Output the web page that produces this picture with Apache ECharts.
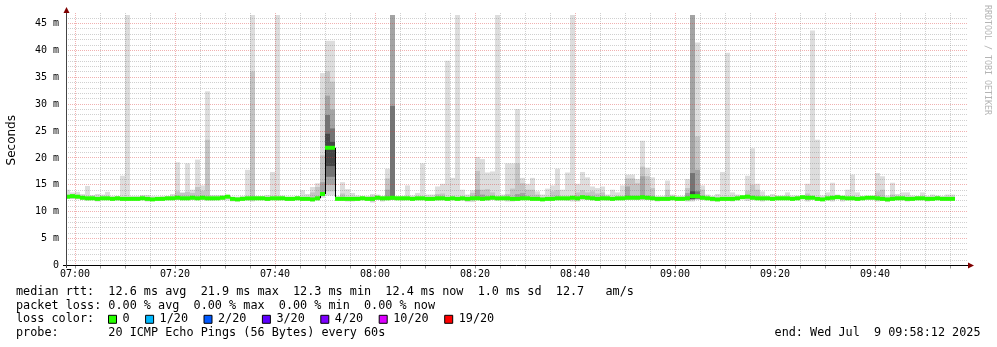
<!DOCTYPE html>
<html><head><meta charset="utf-8">
<script src="https://cdn.jsdelivr.net/npm/echarts@6/dist/echarts.min.js"></script>
<style>html,body{margin:0;padding:0;background:#fff}#c{width:997px;height:347px}</style>
</head><body><div id="c"></div>
<script>
// ---- data (one bar per minute, first bar = 06:58, minutes relative to 07:00) ----
const barMinutes = Array.from({length: 180}, (_, i) => i - 2);
const tickMinutes = [0, 20, 40, 60, 80, 100, 120, 140, 160];
const tickLabels = ['07:00','07:20','07:40','08:00','08:20','08:40','09:00','09:20','09:40'];
const gridMinutes = Array.from({length: 36}, (_, i) => i * 5);
const gridMs = Array.from({length: 46}, (_, i) => i + 1);

const pingMax = [
 14.1,13.6,13.7,13.3,14.8,13.1,13.3,13.2,13.7,12.9,
 12.9,16.7,46.6,12.9,12.9,13.1,13.1,12.9,12.8,12.9,
 12.9,13.3,19.2,13.6,19.0,14.1,19.7,14.9,32.4,13.1,
 13.1,13.1,13.0,12.7,12.8,12.9,17.8,46.6,12.9,12.9,
 13.1,17.4,46.6,13.0,12.8,12.8,12.9,14.0,13.3,14.6,
 15.3,35.8,41.8,41.8,12.9,15.5,14.2,13.5,13.0,12.9,
 12.9,13.3,13.2,12.9,18.0,46.6,12.9,12.9,14.9,13.0,
 13.5,19.0,13.2,13.2,14.7,15.2,38.1,16.3,46.6,14.1,
 13.2,14.0,20.2,19.8,17.3,17.5,46.6,13.2,19.0,19.0,
 29.1,16.3,15.2,16.3,13.8,13.2,14.3,14.9,18.0,14.1,
 17.3,46.6,15.2,17.4,16.4,14.7,14.4,14.7,13.2,14.1,
 13.6,14.9,16.9,16.9,16.1,23.2,18.2,16.4,12.9,12.9,
 15.8,13.2,12.9,12.9,16.1,46.6,41.5,14.9,13.2,12.9,
 13.3,17.4,39.6,13.6,13.2,12.9,16.7,21.8,15.2,13.8,
 13.0,13.3,13.0,13.0,13.6,13.0,13.0,13.0,15.2,43.7,
 23.4,13.0,13.6,15.4,13.2,12.9,14.1,16.9,13.6,12.9,
 12.6,12.6,17.2,16.6,13.0,15.4,13.3,13.6,13.6,13.0,
 12.9,13.6,12.9,13.2,13.0,12.9,13.2,13.2,null,null];

const pingMin = [
 12.4,12.5,12.3,12.2,12.1,12.2,11.9,12.2,12.2,12.1,
 12.1,12.1,12.1,12.1,12.1,12.2,11.9,12.0,12.1,12.1,
 12.2,12.2,12.2,12.2,12.2,12.2,12.2,12.2,12.1,12.1,
 12.2,12.2,12.1,11.9,11.9,12.1,12.1,11.9,12.2,12.2,
 12.0,12.2,12.1,12.2,12.0,12.0,12.2,12.0,12.1,11.9,
 12.1,12.6,13.0,13.0,12.1,12.1,11.9,11.9,12.1,12.2,
 12.1,11.7,12.2,11.9,12.2,12.2,12.2,12.1,12.2,12.1,
 12.2,12.2,12.1,12.1,12.1,12.2,12.1,12.2,12.1,12.1,
 11.8,11.8,12.2,12.1,12.1,12.2,12.1,12.2,11.9,11.9,
 12.1,12.2,12.2,12.1,12.1,12.0,12.1,12.1,12.2,12.2,
 12.1,11.9,11.9,12.3,12.2,12.2,12.1,12.2,12.1,12.1,
 12.2,12.2,12.3,12.3,12.2,12.3,12.2,12.2,11.9,12.1,
 12.1,12.2,12.1,12.1,11.9,11.9,12.5,12.2,12.2,11.9,
 11.9,12.1,12.1,11.9,12.2,12.4,12.0,12.3,12.2,11.9,
 12.2,12.1,12.2,12.2,12.2,12.1,12.2,12.4,11.9,12.3,
 12.1,12.0,12.2,11.9,12.4,11.9,12.2,12.2,12.1,12.2,
 12.3,12.3,11.9,12.1,11.8,12.1,12.2,12.2,11.9,12.1,
 12.2,12.2,11.9,12.1,12.2,12.1,12.1,12.1,null,null];

const medianRtt = [
 12.8,12.9,12.8,12.6,12.5,12.5,12.4,12.5,12.5,12.4,
 12.5,12.4,12.4,12.4,12.4,12.5,12.4,12.3,12.4,12.4,
 12.5,12.5,12.6,12.5,12.5,12.6,12.5,12.6,12.5,12.5,
 12.5,12.6,12.8,12.4,12.3,12.4,12.5,12.5,12.5,12.5,
 12.4,12.5,12.5,12.5,12.4,12.4,12.5,12.4,12.4,12.3,
 12.5,13.3,21.9,21.9,12.4,12.4,12.4,12.4,12.4,12.5,
 12.4,12.4,12.6,12.5,12.5,12.6,12.5,12.5,12.5,12.4,
 12.5,12.5,12.4,12.4,12.5,12.5,12.4,12.5,12.4,12.5,
 12.4,12.5,12.5,12.4,12.5,12.6,12.5,12.5,12.5,12.4,
 12.4,12.5,12.5,12.4,12.4,12.3,12.4,12.4,12.5,12.5,
 12.5,12.6,12.5,12.7,12.6,12.5,12.4,12.5,12.5,12.4,
 12.5,12.5,12.6,12.6,12.6,12.7,12.6,12.5,12.4,12.4,
 12.4,12.5,12.4,12.4,12.5,12.9,12.9,12.6,12.5,12.4,
 12.3,12.4,12.4,12.4,12.5,12.7,12.8,12.6,12.5,12.5,
 12.5,12.4,12.5,12.5,12.5,12.4,12.5,12.7,12.6,12.6,
 12.4,12.3,12.5,12.6,12.7,12.6,12.5,12.5,12.4,12.5,
 12.6,12.6,12.5,12.4,12.3,12.4,12.5,12.5,12.4,12.4,
 12.5,12.5,12.4,12.4,12.5,12.4,12.4,12.4,null,null];

// darker smoke layers: [minute, low, high]
const smoke2 = [
 [-1,12.4,13.2],[20,12.3,13.8],[21,12.3,13.5],[22,12.3,13.7],[23,12.3,13.5],[24,12.3,14.6],
 [25,12.3,13.9],[26,12.2,23.4],[35,12.2,36.1],[47,12.3,13.6],[48,12.3,14.6],[49,12.9,20.5],
 [50,13.8,36.1],[51,13.8,34.2],[53,12.4,13.4],[59,11.9,12.9],[60,12.2,12.9],[62,12.5,16.2],
 [63,12.3,46.6],[72,12.3,13.3],[73,12.3,13.4],[79,12.3,13.5],[80,12.3,17.6],[81,12.3,14.1],
 [82,12.3,14.2],[83,12.3,13.6],[86,12.3,13.3],[87,12.3,14.3],[88,12.3,19.0],[89,12.3,15.3],
 [90,12.3,14.1],[91,12.3,14.1],[92,12.3,13.2],[95,12.3,13.8],[96,12.3,14.0],[100,12.3,13.6],
 [101,12.3,14.0],[102,12.3,13.6],[103,12.3,13.8],[104,12.3,13.4],[105,12.3,13.6],
 [110,12.3,16.2],[111,12.3,16.2],[112,12.3,15.3],[113,12.3,18.4],[114,12.3,16.6],[115,12.3,14.4],
 [118,12.3,14.1],[122,12.3,14.4],[123,12.3,46.6],[124,12.3,24.0],[125,12.3,14.1],
 [134,12.3,13.9],[135,12.3,15.0],[136,12.3,14.1],[146,12.3,13.4],[160,12.3,13.8],
 [161,12.3,14.1],[163,12.3,13.2]];
const smoke3 = [
 [49,13.0,15.5],[50,15.0,31.6],[51,15.0,29.0],[62,12.6,14.1],[63,12.3,46.6],[80,12.3,14.1],
 [81,12.3,13.2],[88,12.3,13.3],[89,12.3,13.5],[110,12.3,14.7],[113,12.3,16.6],[122,12.4,13.5],
 [123,12.3,46.6],[124,12.3,17.8]];
const smoke4 = [[50,16.5,28.0],[51,16.5,25.5],[63,12.3,29.7],[123,12.3,17.2],[124,12.4,13.8]];
const smoke5 = [[50,18.5,24.5],[51,18.5,23.0],[123,12.4,13.8]];

const rttStats = [12.6, 21.9, 12.3, 12.4]; // avg, max, min, now (ms)
const rttSd = 1.0, amPerSec = 12.7;
const lossStats = [0, 0, 0, 0];
const lossLabels = ['0','1/20','2/20','3/20','4/20','10/20','19/20'];
const lossColors = ['#26ff00','#00b8ff','#0059ff','#5e00ff','#7e00ff','#dd00ff','#ff0000'];
const probeText = '20 ICMP Echo Pings (56 Bytes) every 60s';
const endText = 'end: Wed Jul  9 09:58:12 2025';

// ---- chart ----
const MONO = '"DejaVu Sans Mono", monospace';
const chart = echarts.init(document.getElementById('c'), null, {renderer: 'canvas'});

function clipTo(cs, r) {
  return echarts.graphic.clipRectByRect(r, {x: cs.x, y: cs.y, width: cs.width, height: cs.height});
}
function smokeSeries(items, color, z) {
  return {
    type: 'custom', silent: true, z: z, animation: false,
    data: items, encode: {x: 0, y: [1, 2]},
    renderItem(params, api) {
      const t = api.value(0), lo = api.value(1), hi = api.value(2);
      const a = api.coord([t, hi]), b = api.coord([t + 1, lo]);
      const shape = clipTo(params.coordSys, {x: a[0], y: a[1], width: b[0] - a[0], height: b[1] - a[1]});
      return shape ? {type: 'rect', shape: shape, style: {fill: color}} : null;
    }
  };
}

const lightItems = [];
const medItems = [];
barMinutes.forEach((t, i) => {
  if (pingMax[i] != null) lightItems.push([t, pingMin[i], pingMax[i]]);
  if (medianRtt[i] != null) medItems.push([t, medianRtt[i], i > 0 && medianRtt[i - 1] != null ? medianRtt[i - 1] : medianRtt[i]]);
});

const MINOR = 'rgba(110,110,110,0.32)', MAJOR = 'rgba(215,50,50,0.38)';
const gridSeriesV = {
  type: 'custom', silent: true, z: 5, animation: false,
  data: gridMinutes.map(m => [m]), encode: {x: 0},
  renderItem(params, api) {
    const m = api.value(0);
    const cs = params.coordSys;
    const x = Math.round(api.coord([m, 0])[0]) + 0.5;
    return {type: 'line', shape: {x1: x, y1: cs.y - 2, x2: x, y2: cs.y + cs.height},
      style: {stroke: m % 20 === 0 ? MAJOR : MINOR, lineWidth: 1, lineDash: [1, 1]}};
  }
};
const gridSeriesH = {
  type: 'custom', silent: true, z: 5, animation: false,
  data: gridMs.map(v => [0, v]), encode: {x: 0, y: 1},
  renderItem(params, api) {
    const v = api.value(1);
    const cs = params.coordSys;
    const y = Math.round(api.coord([0, v])[1] - 0.5) + 0.5;
    return {type: 'line', shape: {x1: cs.x, y1: y, x2: cs.x + cs.width + 2, y2: y},
      style: {stroke: v % 5 === 0 ? MAJOR : MINOR, lineWidth: 1, lineDash: [1, 1]}};
  }
};
const medianSeries = {
  type: 'custom', silent: true, z: 8, animation: false,
  data: medItems, encode: {x: 0, y: 1},
  renderItem(params, api) {
    const t = api.value(0), v = api.value(1), pv = api.value(2);
    const a = api.coord([t, v]), b = api.coord([t + 1, v]), p = api.coord([t, pv]);
    const cs = params.coordSys;
    const x0 = Math.max(a[0], cs.x);
    const children = [];
    if (a[0] >= cs.x) children.push({type: 'line', shape: {x1: x0 + 0.5, y1: p[1], x2: x0 + 0.5, y2: a[1]}, style: {stroke: '#000', lineWidth: 1}});
    children.push({type: 'rect', shape: {x: x0, y: a[1] - 2, width: b[0] - x0, height: 4}, style: {fill: lossColors[0]}});
    return {type: 'group', children: children};
  }
};

const rttLine = 'median rtt:  ' + rttStats[0].toFixed(1) + ' ms avg  ' + rttStats[1].toFixed(1) + ' ms max  ' +
  rttStats[2].toFixed(1) + ' ms min  ' + rttStats[3].toFixed(1) + ' ms now  ' + rttSd.toFixed(1) + ' ms sd  ' +
  amPerSec.toFixed(1) + '   am/s';
const lossLine = 'packet loss: ' + lossStats[0].toFixed(2) + ' % avg  ' + lossStats[1].toFixed(2) + ' % max  ' +
  lossStats[2].toFixed(2) + ' % min  ' + lossStats[3].toFixed(2) + ' % now';

const CW = 7.1, FS = 11.8, TX = 16;
const rows = [291.5, 305.5, 319.3, 333.2];
const graphics = [
  {type: 'text', x: TX, y: rows[0], style: {text: rttLine, font: FS + 'px ' + MONO, fill: '#000', verticalAlign: 'middle'}},
  {type: 'text', x: TX, y: rows[1], style: {text: lossLine, font: FS + 'px ' + MONO, fill: '#000', verticalAlign: 'middle'}},
  {type: 'text', x: TX, y: rows[2], style: {text: 'loss color:', font: FS + 'px ' + MONO, fill: '#000', verticalAlign: 'middle'}},
  {type: 'text', x: TX, y: rows[3], style: {text: 'probe:       ' + probeText, font: FS + 'px ' + MONO, fill: '#000', verticalAlign: 'middle'}},
  {type: 'text', x: 980.5, y: rows[3], style: {text: endText, font: FS + 'px ' + MONO, fill: '#000', verticalAlign: 'middle', align: 'right'}},
  {type: 'text', x: 987, y: 5, rotation: -Math.PI / 2, style: {text: 'RRDTOOL / TOBI OETIKER', font: '8.3px ' + MONO, fill: '#b4b4b4', verticalAlign: 'middle', align: 'left'}},
  // axes + arrows
  {type: 'line', shape: {x1: 63, y1: 265.5, x2: 970, y2: 265.5}, style: {stroke: '#000', lineWidth: 1}, z: 20},
  {type: 'line', shape: {x1: 66.5, y1: 268, x2: 66.5, y2: 11}, style: {stroke: '#444', lineWidth: 1}, z: 20},
  {type: 'polygon', shape: {points: [[968, 262.5], [974, 265.5], [968, 268.5]]}, style: {fill: '#7f0000'}, z: 21},
  {type: 'polygon', shape: {points: [[63.5, 13], [66.5, 7], [69.5, 13]]}, style: {fill: '#7f0000'}, z: 21}
];
let sq = 108.5;
lossLabels.forEach((lab, k) => {
  graphics.push({type: 'rect', shape: {x: sq, y: rows[2] - 4, width: 8, height: 8}, style: {fill: lossColors[k], stroke: '#000', lineWidth: 1}});
  const lx = sq + 14;
  graphics.push({type: 'text', x: lx, y: rows[2], style: {text: lab, font: FS + 'px ' + MONO, fill: '#000', verticalAlign: 'middle'}});
  sq = lx + lab.length * CW + 16;
});

chart.setOption({
  animation: false,
  backgroundColor: '#fff',
  grid: {left: 66, top: 15, width: 900, height: 250.5, containLabel: false, outerBoundsMode: 'none'},
  xAxis: {
    type: 'value', min: -1.8, max: 178.2,
    axisLine: {show: false}, splitLine: {show: false},
    axisTick: {show: true, customValues: gridMinutes, length: 3, lineStyle: {color: '#999'}},
    axisLabel: {customValues: tickMinutes, formatter: v => tickLabels[tickMinutes.indexOf(v)] || '',
      fontFamily: MONO, fontSize: 10, color: '#000', margin: 4}
  },
  yAxis: {
    type: 'value', min: 0, max: 46.6, interval: 5,
    axisLine: {show: false}, splitLine: {show: false}, axisTick: {show: false},
    axisLabel: {formatter: v => (v === 0 ? '0' : v + ' m'), showMaxLabel: false, fontFamily: MONO, fontSize: 10, color: '#000', margin: 7},
    name: 'Seconds', nameLocation: 'middle', nameGap: 48,
    nameTextStyle: {fontFamily: '"DejaVu Sans", sans-serif', fontSize: 12, color: '#000'}
  },
  series: [
    smokeSeries(lightItems, '#dddddd', 1),
    smokeSeries(smoke2, '#c4c4c4', 2),
    smokeSeries(smoke3, '#a4a4a4', 3),
    smokeSeries(smoke4, '#747474', 4),
    smokeSeries(smoke5, '#464646', 4),
    gridSeriesV, gridSeriesH, medianSeries
  ],
  graphic: graphics
});
</script></body></html>
